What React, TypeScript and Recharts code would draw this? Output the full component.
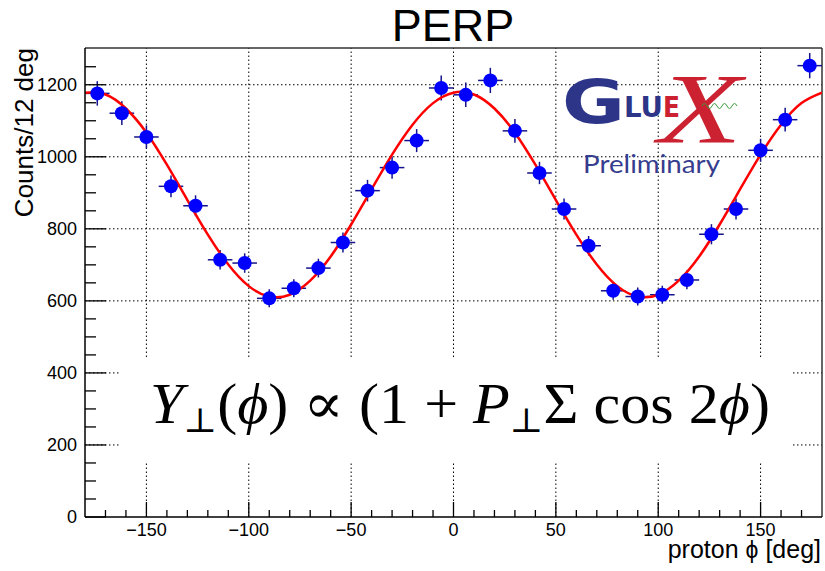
import {
  ComposedChart,
  ErrorBar,
  Line,
  ReferenceLine,
  Scatter,
  XAxis,
  YAxis,
} from "recharts";

// proton phi histogram, 12 deg bins
const binCenters = [
  -174, -162, -150, -138, -126, -114, -102, -90, -78, -66, -54, -42, -30, -18, -6,
  6, 18, 30, 42, 54, 66, 78, 90, 102, 114, 126, 138, 150, 162, 174,
];
const counts = [
  1176, 1121, 1055, 918, 864, 714, 705, 607, 635, 691, 762, 906, 970, 1045, 1191,
  1172, 1212, 1072, 955, 855, 753, 628, 612, 617, 658, 785, 855, 1018, 1103, 1253,
];
const countErrors = [
  34, 33, 32, 30, 29, 27, 27, 25, 25, 26, 28, 30, 31, 32, 35,
  34, 35, 33, 31, 29, 27, 25, 25, 25, 26, 28, 29, 32, 33, 35,
];
const binHalfWidth = 6;

// fitted cos(2phi) curve, sampled every 10 deg
const fitPhi = [
  -180, -170, -160, -150, -140, -130, -120, -110, -100, -90, -80, -70, -60, -50, -40,
  -30, -20, -10, 0, 10, 20, 30, 40, 50, 60, 70, 80, 90, 100, 110, 120, 130, 140, 150,
  160, 170, 180,
];
const fitValues = [
  1178, 1173, 1134, 1067, 978, 880, 784, 701, 641, 612, 617, 656, 723, 812, 910,
  1006, 1089, 1149, 1178, 1173, 1134, 1067, 978, 880, 784, 701, 641, 612, 617, 656,
  723, 812, 910, 1006, 1089, 1149, 1178,
];

const xTicks = [
  -170, -160, -150, -140, -130, -120, -110, -100, -90, -80, -70, -60, -50, -40, -30,
  -20, -10, 0, 10, 20, 30, 40, 50, 60, 70, 80, 90, 100, 110, 120, 130, 140, 150, 160,
  170,
];
const xMajor = [-150, -100, -50, 0, 50, 100, 150];
const yTicks = [
  0, 50, 100, 150, 200, 250, 300, 350, 400, 450, 500, 550, 600, 650, 700, 750, 800,
  850, 900, 950, 1000, 1050, 1100, 1150, 1200, 1250,
];
const yMajor = [0, 200, 400, 600, 800, 1000, 1200];

const X_MIN = -180;
const X_MAX = 180;
const Y_MAX = 1302;

const histData = binCenters.map((x, i) => ({
  x,
  y: counts[i],
  yErr: countErrors[i],
  xErr: binHalfWidth,
}));
const fitData = fitPhi.map((x, i) => ({ x, y: fitValues[i] }));

const FONT = "'Liberation Sans', Arial, Helvetica, sans-serif";
const SERIF = "'Liberation Serif', 'DejaVu Serif', serif";

const Y_TICK_MARGIN = 8;
const X_TICK_MARGIN = 6;

function YTick(props: any) {
  const { x, y, payload } = props;
  const axisX = x + Y_TICK_MARGIN;
  const major = yMajor.includes(payload.value);
  return (
    <g>
      <line x1={axisX} x2={axisX + (major ? 21 : 11)} y1={y} y2={y} stroke="#000" strokeWidth={1.3} />
      {major && (
        <text x={x} y={y} dy="0.36em" textAnchor="end" fontFamily={FONT} fontSize={18} fill="#000">
          {payload.value}
        </text>
      )}
    </g>
  );
}

function XTick(props: any) {
  const { x, y, payload } = props;
  const axisY = y - X_TICK_MARGIN;
  const major = xMajor.includes(payload.value);
  const label = payload.value < 0 ? `\u2212${Math.abs(payload.value)}` : `${payload.value}`;
  return (
    <g>
      <line x1={x} x2={x} y1={axisY} y2={axisY - (major ? 15 : 7)} stroke="#000" strokeWidth={1.3} />
      {major && (
        <text x={x} y={y + 13} textAnchor="middle" fontFamily={FONT} fontSize={18} fill="#000">
          {label}
        </text>
      )}
    </g>
  );
}

function Dot(props: any) {
  return <circle cx={props.cx} cy={props.cy} r={7} fill="#0000ff" />;
}

export default function App() {
  return (
    <div style={{ position: "absolute", left: 0, top: 0, width: 825, height: 571, background: "#fff" }}>
      <ComposedChart
        width={825}
        height={571}
        margin={{ top: 48, right: 3, bottom: 0, left: 0 }}
      >
        <XAxis
          type="number"
          dataKey="x"
          domain={[X_MIN, X_MAX]}
          ticks={xTicks}
          interval={0}
          allowDataOverflow
          height={54}
          tickSize={0}
          tickMargin={X_TICK_MARGIN}
          tick={<XTick />}
          axisLine={{ stroke: "#000", strokeWidth: 1.5 }}
        />
        <YAxis
          type="number"
          dataKey="y"
          domain={[0, Y_MAX]}
          ticks={yTicks}
          interval={0}
          allowDataOverflow
          width={85}
          tickSize={0}
          tickMargin={Y_TICK_MARGIN}
          tick={<YTick />}
          axisLine={{ stroke: "#000", strokeWidth: 1.5 }}
        />
        {yMajor.slice(1).map((v) => (
          <ReferenceLine key={`gy${v}`} y={v} stroke="#000" strokeWidth={1} strokeDasharray="1.5 2.5" />
        ))}
        {xMajor.map((v) => (
          <ReferenceLine key={`gx${v}`} x={v} stroke="#000" strokeWidth={1} strokeDasharray="1.5 2.5" />
        ))}
        <ReferenceLine y={Y_MAX} stroke="#333" strokeWidth={1.5} />
        <ReferenceLine x={X_MAX} stroke="#333" strokeWidth={1.5} />
        <Scatter data={histData} dataKey="y" shape={<Dot />} isAnimationActive={false}>
          <ErrorBar dataKey="yErr" direction="y" width={0} stroke="#14148c" strokeWidth={1.5} />
          <ErrorBar dataKey="xErr" direction="x" width={0} stroke="#14148c" strokeWidth={1.5} />
        </Scatter>
        <Line
          data={fitData}
          dataKey="y"
          type="natural"
          stroke="#ff0000"
          strokeWidth={2.5}
          dot={false}
          activeDot={false}
          isAnimationActive={false}
        />
      </ComposedChart>

      <svg
        width={825}
        height={571}
        style={{ position: "absolute", left: 0, top: 0, pointerEvents: "none" }}
      >
        <text x={453} y={41} textAnchor="middle" fontFamily={FONT} fontSize={45} fill="#000">
          PERP
        </text>
        <text
          transform="translate(33,48) rotate(-90)"
          textAnchor="end"
          fontFamily={FONT}
          fontSize={26}
          fill="#000"
        >
          Counts/12 deg
        </text>
        <text x={821} y={558} textAnchor="end" fontFamily={FONT} fontSize={25} fill="#000">
          proton <tspan fontSize={23}>ϕ</tspan> [deg]
        </text>

        {/* formula box */}
        <rect x={120} y={358} width={672} height={105} fill="#fff" />
        <text
          x={150}
          y={423}
          fontFamily={SERIF}
          fontSize={57}
          fill="#000"
          textLength={620}
          lengthAdjust="spacingAndGlyphs"
        >
          <tspan fontStyle="italic">Y</tspan>
          <tspan fontSize={34} dy={9}>⊥</tspan>
          <tspan dy={-9}>(</tspan>
          <tspan fontStyle="italic">ϕ</tspan>
          <tspan>) ∝ (1 + </tspan>
          <tspan fontStyle="italic">P</tspan>
          <tspan fontSize={34} dy={9}>⊥</tspan>
          <tspan dy={-9}>Σ cos 2</tspan>
          <tspan fontStyle="italic">ϕ</tspan>
          <tspan>)</tspan>
        </text>

        {/* GlueX logo */}
        <text
          x={562}
          y={123}
          fontFamily="'DejaVu Sans', sans-serif"
          fontWeight={900}
          fontSize={60}
          fill="#2d3588"
          textLength={63}
          lengthAdjust="spacingAndGlyphs"
        >
          G
        </text>
        <text
          x={624}
          y={117}
          fontFamily="'DejaVu Sans', sans-serif"
          fontWeight={700}
          fontSize={28}
          fill="#2d3588"
          textLength={39}
          lengthAdjust="spacingAndGlyphs"
        >
          LU
        </text>
        <text
          x={663}
          y={117}
          fontFamily="'DejaVu Sans', sans-serif"
          fontWeight={700}
          fontSize={28}
          fill="#cc2130"
          textLength={17}
          lengthAdjust="spacingAndGlyphs"
        >
          E
        </text>
        <text
          x={658}
          y={142}
          fontFamily={SERIF}
          fontStyle="italic"
          fontSize={100}
          fill="#cc2130"
          textLength={84}
          lengthAdjust="spacingAndGlyphs"
        >
          X
        </text>
        <path
          d="M702 106 q2.5 -5 5 0 t5 0 t5 0 t5 0 t5 0 t5 0 t5 0"
          fill="none"
          stroke="#3a9a3a"
          strokeWidth={1}
        />
        <text
          x={583}
          y={173}
          fontFamily="Lato, 'Open Sans', sans-serif"
          fontSize={25}
          fill="#373d8e"
          textLength={137}
          lengthAdjust="spacingAndGlyphs"
        >
          Preliminary
        </text>
      </svg>
    </div>
  );
}
